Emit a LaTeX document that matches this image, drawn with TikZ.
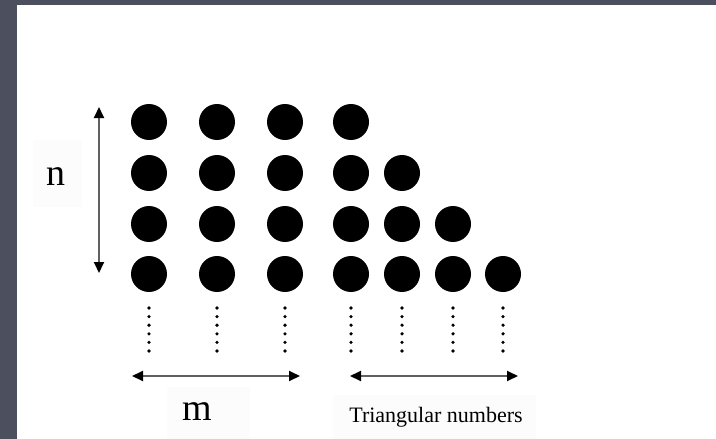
\documentclass[tikz,border=0pt]{standalone}
\usepackage{fontspec}
\setmainfont{Liberation Serif}
\usetikzlibrary{arrows.meta}
\definecolor{slate}{RGB}{76,79,93}
\definecolor{faint}{RGB}{252,252,252}
\tikzset{
  dot/.style={circle,fill=black,inner sep=0pt,minimum size=36pt},
  dimarrow/.style={draw=gray!75!black,line width=2pt,{Triangle[black,length=11pt,width=10pt]}-{Triangle[black,length=11pt,width=10pt]}},
  dotline/.style={line width=3.6pt,line cap=round,dash pattern=on 0pt off 8.6pt},
  lbl/.style={inner sep=0pt,anchor=base}
}
\begin{document}
\begin{tikzpicture}[x=1pt,y=-1pt]
\useasboundingbox (0,0) rectangle (716,439);
\fill[slate] (0,0) rectangle (716,439);
\fill[white] (17,5) rectangle (716,439);
% faint label backgrounds
\fill[faint] (33,140) rectangle (82,207);
\fill[faint] (167,387) rectangle (250,439);
\fill[faint] (333,395) rectangle (536,439);
% dots
\foreach \c/\x in {1/149,2/217,3/285,4/351,5/402,6/453,7/503}{
  \foreach \r/\y in {1/122,2/173,3/224,4/274}{
    \pgfmathtruncatemacro{\show}{(\c<4) || (\r>=\c-3)}
    \ifnum\show=1
      \node[dot] (d\c\r) at (\x,\y) {};
    \fi
  }
  \coordinate (t\c) at (\x,308);
  \coordinate (b\c) at (\x,351.5);
  \draw[dotline] (t\c) -- (b\c);
}
% vertical arrow n
\coordinate (nt) at (99,107);
\coordinate (nb) at (99,273);
\draw[dimarrow] (nt) -- (nb);
% horizontal arrows
\coordinate (ml) at (132,376);
\coordinate (mr) at (300,376);
\draw[dimarrow] (ml) -- (mr);
\coordinate (tl) at (350,376);
\coordinate (tr) at (518,376);
\draw[dimarrow] (tl) -- (tr);
% labels
\node[lbl,font=\fontsize{38}{38}\selectfont] (n) at (56,185) {n};
\node[lbl,font=\fontsize{38}{38}\selectfont] (m) at (197,420) {m};
\node[lbl,font=\fontsize{22}{22}\selectfont] (tri) at (436,422) {Triangular numbers};
\end{tikzpicture}
\end{document}
